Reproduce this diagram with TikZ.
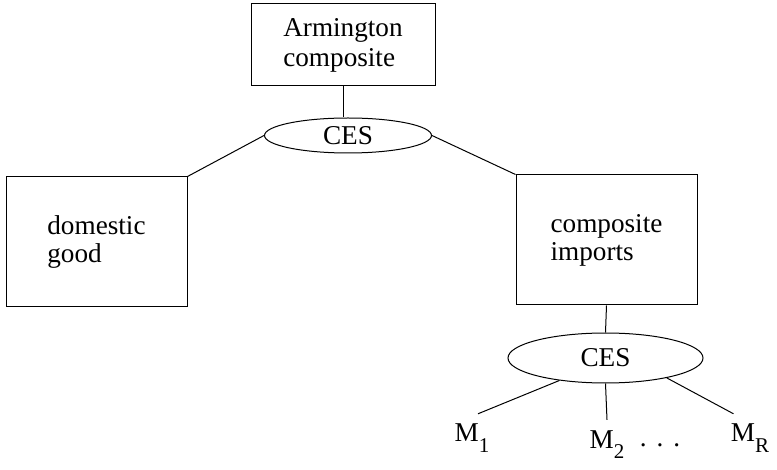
\documentclass[tikz,border=0pt]{standalone}
\usepackage{fontspec}
\setmainfont{Liberation Serif}
\usetikzlibrary{shapes.geometric}
\tikzset{
  box/.style={draw, line width=0.5pt, align=left, inner sep=0pt,
    minimum width=90.5pt, minimum height=65pt,
    font=\fontsize{13.6}{14}\selectfont},
  cesnode/.style={draw, ellipse, line width=0.5pt, inner sep=0pt,
    font=\fontsize{13.6}{14}\selectfont},
  lab/.style={inner sep=5pt, font=\fontsize{13.6}{14}\selectfont},
  conn/.style={line width=0.5pt},
}
\newcommand{\subl}[1]{\raisebox{-5.5pt}{\fontsize{10.5}{11}\selectfont #1}}
\begin{document}
\begin{tikzpicture}[x=0.5pt,y=-0.5pt]
\useasboundingbox (0,0) rectangle (777,470);
% boxes
\node[box, minimum width=92pt, minimum height=41pt, font=\fontsize{13.6}{15}\selectfont] (arm) at (343,45) {Armington\\composite};
\node[cesnode, minimum width=83.5pt, minimum height=17.5pt] (ces1) at (348,135.5) {CES};
\node[box] (dom) at (96.5,242) {domestic\\good};
\node[box] (imp) at (606.5,240) {composite\\imports};
\node[cesnode, minimum width=97.5pt, minimum height=25pt] (ces2) at (605.5,358) {CES};
% labels
\node[lab, anchor=base] (m1) at (472,442) {M\subl{1}};
\node[lab, anchor=base] (m2) at (607,448) {M\subl{2}};
\node[lab, anchor=base] (dots) at (660,446) {.\hspace{5pt}.\hspace{5pt}.};
\node[lab, anchor=base] (mr) at (750,442) {M\subl{R}};
% connectors
\draw[conn] (arm.south) -- (arm.south |- ces1.north);
\draw[conn] (ces1.west) -- (dom.north east);
\draw[conn] (ces1.east) -- (imp.north west);
\draw[conn] (imp.south) -- (ces2.north);
\draw[conn] (ces2.-154) -- ([xshift=3pt]m1.north);
\draw[conn] (ces2.south) -- (m2.north);
\draw[conn] (ces2.-18) -- ([xshift=6.5pt]mr.north west);
\end{tikzpicture}
\end{document}
